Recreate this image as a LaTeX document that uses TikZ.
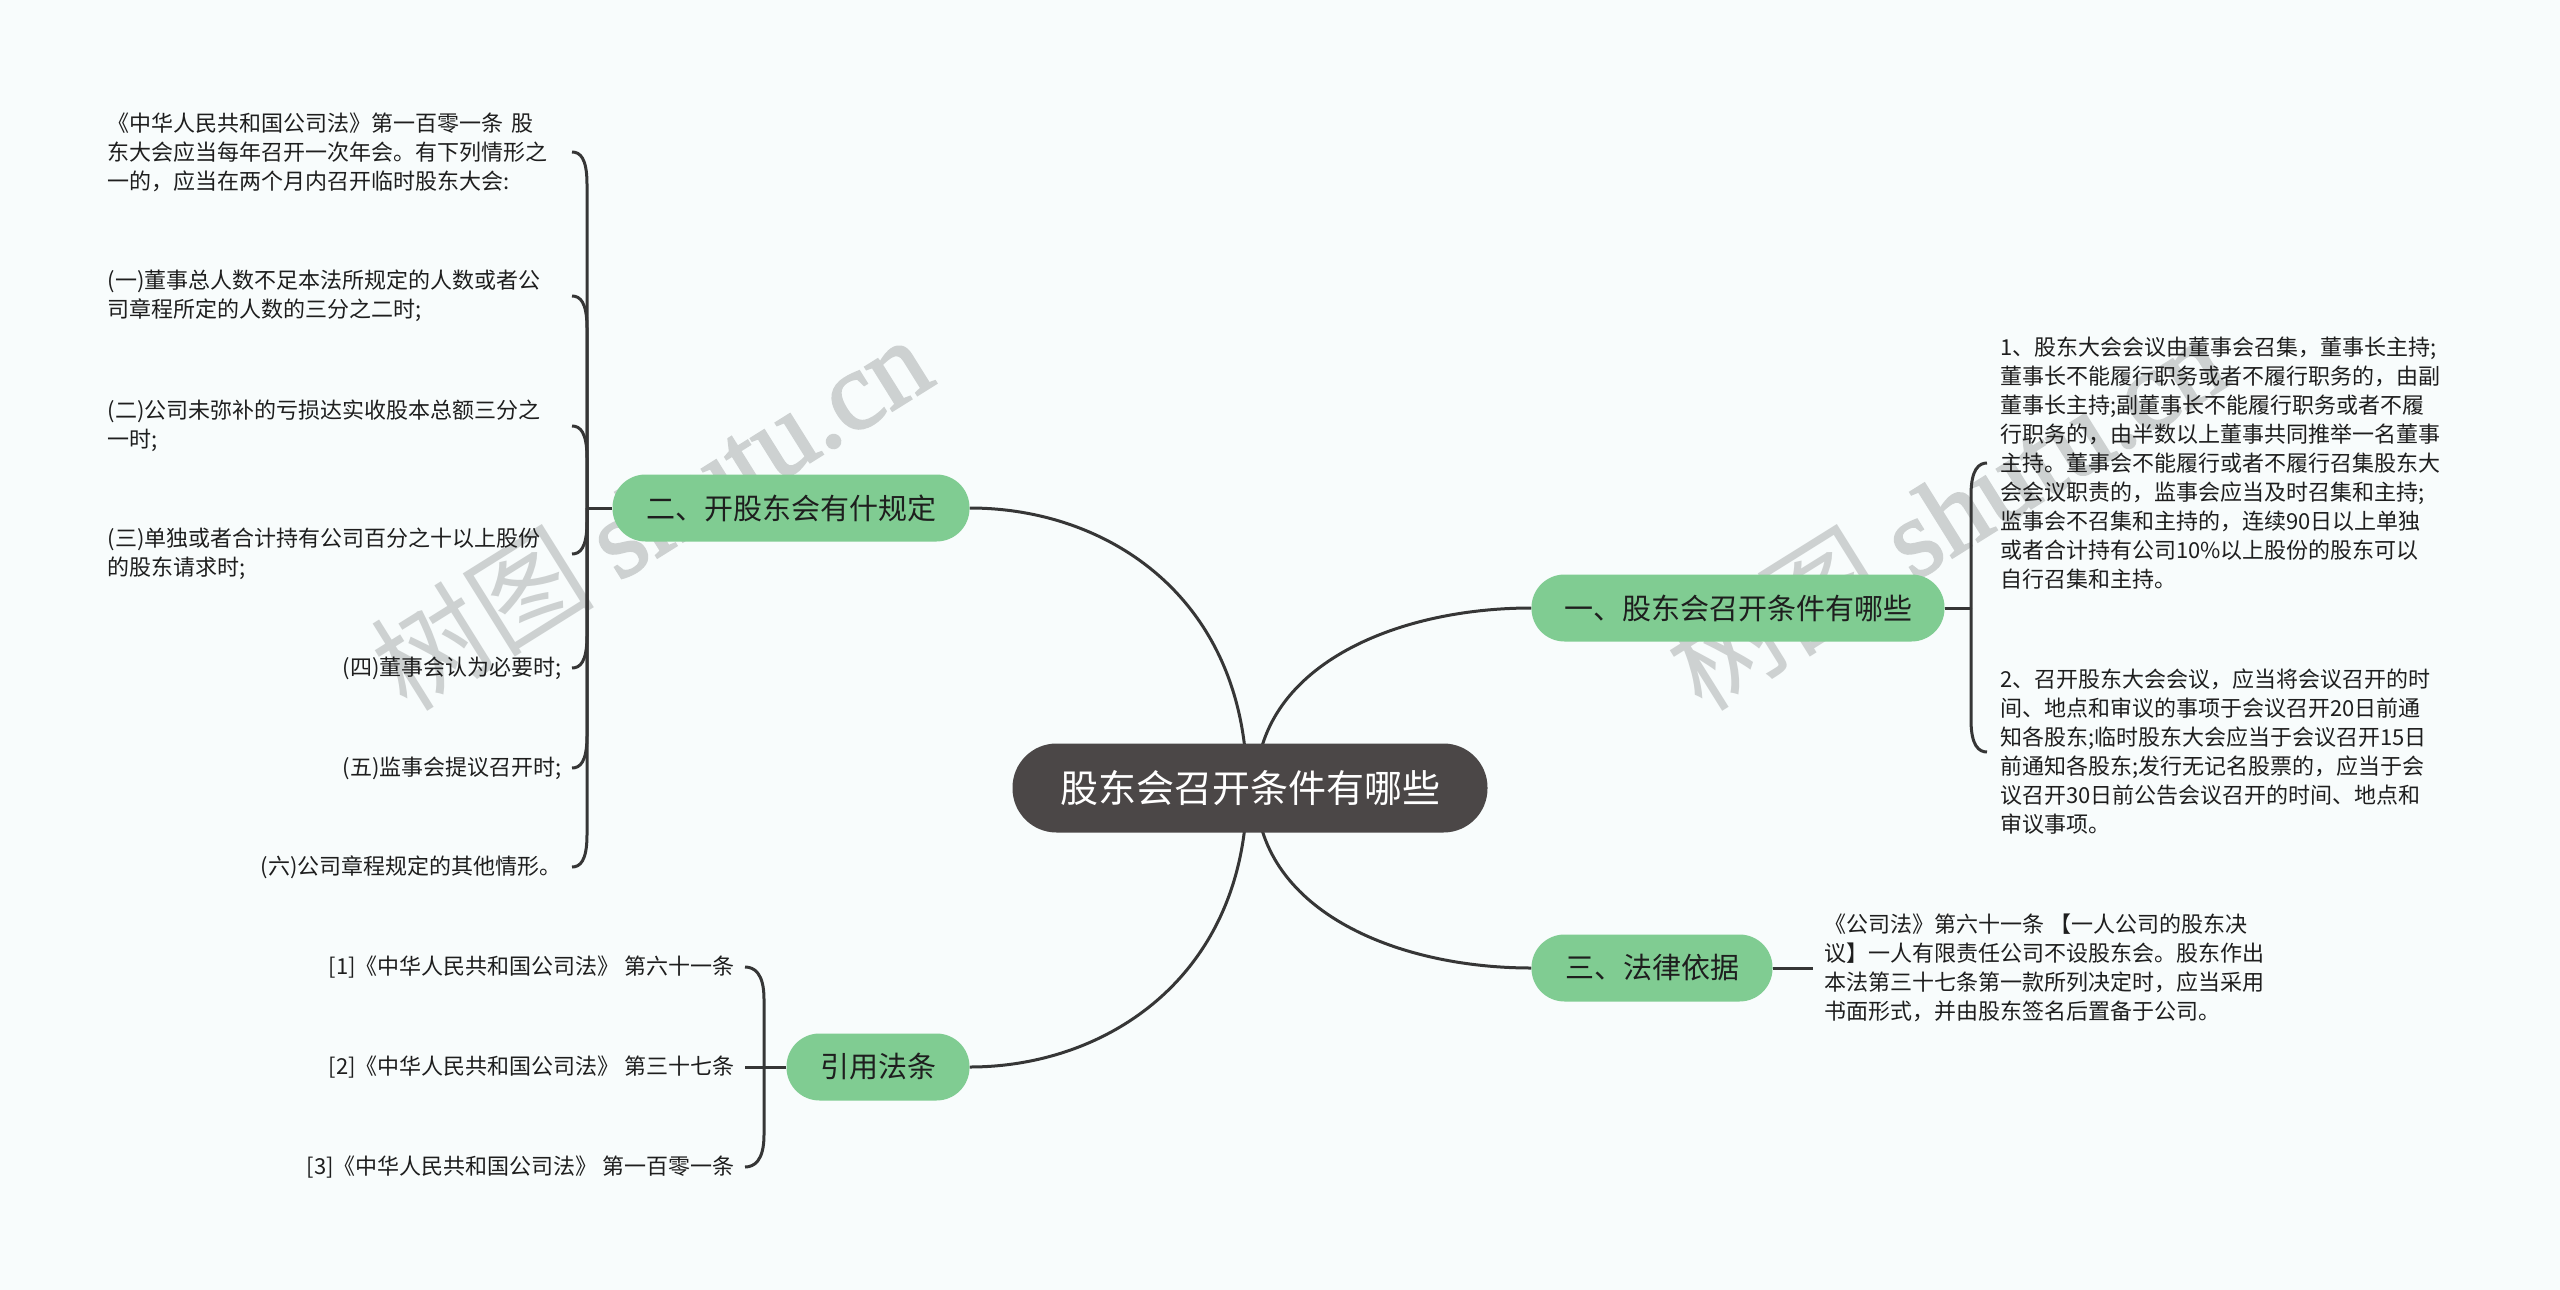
\documentclass[tikz,border=0pt]{standalone}
\usepackage{fontspec}
\setmainfont{Noto Sans CJK SC}
\newfontfamily\wmlatin{Liberation Serif}[FakeBold=2]
\usetikzlibrary{calc}
\definecolor{bgc}{HTML}{F8FCFC}
\definecolor{rootc}{HTML}{4B4747}
\definecolor{greenc}{HTML}{80CC92}
\definecolor{linec}{HTML}{363636}
\definecolor{txtc}{HTML}{1E1E1E}
\definecolor{wmc}{HTML}{CDD1D1}
\pgfdeclarelayer{bg}
\pgfdeclarelayer{paper}
\pgfsetlayers{paper,bg,main}
\newcommand\curlL[2]{\draw[conn] (jL) -- ($(#1.east)+(15,#2*32)$) .. controls ($(#1.east)+(15,#2*6)$) and ($(#1.east)+(8,0)$) .. (#1.east);}
\newcommand\curlR[2]{\draw[conn] (jR) -- ($(#1.west)+(-16,#2*32)$) .. controls ($(#1.west)+(-16,#2*6)$) and ($(#1.west)+(-8,0)$) .. (#1.west);}
\newcommand\curlC[2]{\draw[conn] (jC) -- ($(#1.east)+(19,#2*32)$) .. controls ($(#1.east)+(19,#2*6)$) and ($(#1.east)+(9,0)$) .. (#1.east);}
\begin{document}
\begin{tikzpicture}[x=1pt,y=-1pt,
  conn/.style={draw=linec,line width=3pt},
  rootbox/.style={fill=rootc,text=white,rounded corners=44pt,minimum width=475pt,minimum height=89pt,inner sep=0pt,font=\fontsize{38}{44}\selectfont},
  branch/.style={fill=greenc,text=txtc,rounded corners=33pt,minimum height=67pt,inner sep=0pt,font=\fontsize{29}{34}\selectfont},
  leaf/.style={text=txtc,font=\fontsize{22}{29}\selectfont,inner ysep=0pt},
  wm/.style={text=wmc,rotate=32,font=\fontsize{112}{120}\selectfont},
]
\begin{pgfonlayer}{paper}
\fill[bgc] (0,0) rectangle (2560,1290);
\end{pgfonlayer}
\useasboundingbox (0,0) rectangle (2560,1290);

% nodes
\node[rootbox] (root) at (1250,788) {股东会召开条件有哪些};
\node[branch,minimum width=413pt] (b1) at (1738,608) {一、股东会召开条件有哪些};
\node[branch,minimum width=357pt] (b2) at (791,508) {二、开股东会有什规定};
\node[branch,minimum width=241pt] (b3) at (1652,968) {三、法律依据};
\node[branch,minimum width=183pt] (b4) at (878,1067) {引用法条};

% left leaves
\node[leaf,anchor=east,inner xsep=10pt,text width=454pt,align=left] (L0) at (572,152) {《中华人民共和国公司法》第一百零一条 股\\东大会应当每年召开一次年会。有下列情形之\\一的，应当在两个月内召开临时股东大会:};
\node[leaf,anchor=east,inner xsep=10pt,text width=454pt,align=left] (L1) at (572,296) {(一)董事总人数不足本法所规定的人数或者公\\司章程所定的人数的三分之二时;};
\node[leaf,anchor=east,inner xsep=10pt,text width=454pt,align=left] (L2) at (572,426) {(二)公司未弥补的亏损达实收股本总额三分之\\一时;};
\node[leaf,anchor=east,inner xsep=10pt,text width=454pt,align=left] (L3) at (572,554) {(三)单独或者合计持有公司百分之十以上股份\\的股东请求时;};
\node[leaf,anchor=east,inner xsep=10pt] (L4) at (572,668) {(四)董事会认为必要时;};
\node[leaf,anchor=east,inner xsep=10pt] (L5) at (572,768) {(五)监事会提议召开时;};
\node[leaf,anchor=east,inner xsep=10pt] (L6) at (572,867) {(六)公司章程规定的其他情形。};

% right leaves
\node[leaf,anchor=west,inner xsep=13pt,align=left] (R1) at (1987,463) {1、股东大会会议由董事会召集，董事长主持;\\董事长不能履行职务或者不履行职务的，由副\\董事长主持;副董事长不能履行职务或者不履\\行职务的，由半数以上董事共同推举一名董事\\主持。董事会不能履行或者不履行召集股东大\\会会议职责的，监事会应当及时召集和主持;\\监事会不召集和主持的，连续90日以上单独\\或者合计持有公司10\%以上股份的股东可以\\自行召集和主持。};
\node[leaf,anchor=west,inner xsep=13pt,align=left] (R2) at (1987,752) {2、召开股东大会会议，应当将会议召开的时\\间、地点和审议的事项于会议召开20日前通\\知各股东;临时股东大会应当于会议召开15日\\前通知各股东;发行无记名股票的，应当于会\\议召开30日前公告会议召开的时间、地点和\\审议事项。};
\node[leaf,anchor=west,inner xsep=11pt,align=left] (T1) at (1813,968) {《公司法》第六十一条 【一人公司的股东决\\议】一人有限责任公司不设股东会。股东作出\\本法第三十七条第一款所列决定时，应当采用\\书面形式，并由股东签名后置备于公司。};

% citation leaves
\node[leaf,anchor=east,inner xsep=10pt] (C1) at (745,967) {[1]《中华人民共和国公司法》 第六十一条};
\node[leaf,anchor=east,inner xsep=10pt] (C2) at (745,1067) {[2]《中华人民共和国公司法》 第三十七条};
\node[leaf,anchor=east,inner xsep=10pt] (C3) at (745,1167) {[3]《中华人民共和国公司法》 第一百零一条};

\coordinate (rl) at (1247,788);
\coordinate (rr) at (1256,788);
\coordinate (jL) at (587,508);
\coordinate (jR) at (1971,608);
\coordinate (jC) at (764,1067);

\begin{pgfonlayer}{bg}
  % watermarks
  \node[wm] (wm1) at (650,512) {树图 {\wmlatin shutu.cn}};
  \node[wm] (wm2) at (1945,512) {树图 {\wmlatin shutu.cn}};
  % main connectors
  \draw[conn] (rl) .. controls (1247,600) and (1110,508) .. (b2.east);
  \draw[conn] (rr) .. controls (1256,667) and (1394,608) .. (b1.west);
  \draw[conn] (rr) .. controls (1256,909) and (1394,968) .. (b3.west);
  \draw[conn] (rl) .. controls (1247,975) and (1108,1067) .. (b4.east);
  % left bracket
  \draw[conn] (b2.west) -- (jL);
  \curlL{L0}{1}
  \curlL{L1}{1}
  \curlL{L2}{1}
  \curlL{L3}{-1}
  \curlL{L4}{-1}
  \curlL{L5}{-1}
  \curlL{L6}{-1}
  % right bracket
  \draw[conn] (b1.east) -- (jR);
  \curlR{R1}{1}
  \curlR{R2}{-1}
  % law basis
  \draw[conn] (b3.east) -- (T1.west);
  % citations
  \draw[conn] (b4.west) -- (C2.east);
  \curlC{C1}{1}
  \curlC{C3}{-1}
\end{pgfonlayer}
\end{tikzpicture}
\end{document}
